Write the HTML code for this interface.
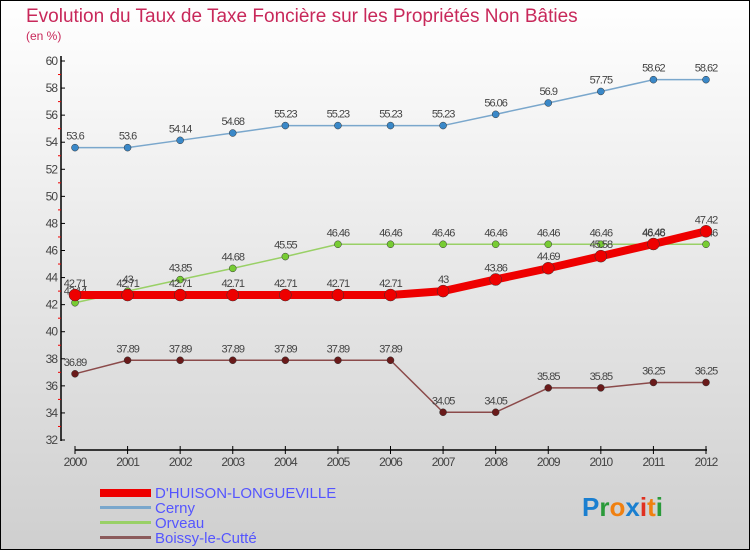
<!DOCTYPE html>
<html><head><meta charset="utf-8"><style>
body{margin:0}
#wrap{width:750px;height:550px;position:relative;overflow:hidden}
svg text{font-family:"Liberation Sans",sans-serif}
</style></head><body>
<div id="wrap">
<svg id="chart" width="750" height="550" xmlns="http://www.w3.org/2000/svg">
<defs><linearGradient id="bg" x1="0" y1="0" x2="0" y2="1"><stop offset="0" stop-color="#ffffff"/><stop offset="1" stop-color="#cfcfcf"/></linearGradient></defs>
<rect x="0.5" y="0.5" width="749" height="549" fill="url(#bg)" stroke="#000"/>
<text x="26" y="22" font-size="19" fill="#c8285a">Evolution du Taux de Taxe Foncière sur les Propriétés Non Bâties</text>
<text x="26" y="40" font-size="12" fill="#c8285a">(en %)</text>
<g id="axes"></g><g id="series"></g>
<g>
<rect x="100" y="489" width="51" height="8" fill="#e00"/>
<text x="155" y="498" font-size="15" fill="#55f">D'HUISON-LONGUEVILLE</text>
<rect x="100" y="506" width="51" height="3" fill="#7aa7cc"/>
<text x="155" y="513" font-size="15" fill="#55f">Cerny</text>
<rect x="100" y="521" width="51" height="3" fill="#99d066"/>
<text x="155" y="528" font-size="15" fill="#55f">Orveau</text>
<rect x="100" y="536" width="51" height="3" fill="#8b5a5a"/>
<text x="155" y="543" font-size="15" fill="#55f">Boissy-le-Cutté</text>
</g>
<text x="582" y="516" font-size="26" font-weight="bold"><tspan fill="#1a7fd0">P</tspan><tspan fill="#2a9a3a">r</tspan><tspan fill="#f08010">o</tspan><tspan fill="#1a7fd0">x</tspan><tspan fill="#e03020">i</tspan><tspan fill="#f08010">t</tspan><tspan fill="#2a9a3a">i</tspan></text>
</svg></div>
<script>
const years=[2000,2001,2002,2003,2004,2005,2006,2007,2008,2009,2010,2011,2012];
const yTicks=[32,34,36,38,40,42,44,46,48,50,52,54,56,58,60];
const dhuison=[42.71,42.71,42.71,42.71,42.71,42.71,42.71,43,43.86,44.69,45.58,46.48,47.42];
const cerny=[53.6,53.6,54.14,54.68,55.23,55.23,55.23,55.23,56.06,56.9,57.75,58.62,58.62];
const orveau=[42.14,43,43.85,44.68,45.55,46.46,46.46,46.46,46.46,46.46,46.46,46.46,46.46];
const boissy=[36.89,37.89,37.89,37.89,37.89,37.89,37.89,34.05,34.05,35.85,35.85,36.25,36.25];
const NS="http://www.w3.org/2000/svg";
const X=i=>75+i*(706-75)/(years.length-1);
const Y=v=>440-(v-32)*(440-61)/28;
function mk(t,a,p){const e=document.createElementNS(NS,t);for(const k in a)e.setAttribute(k,a[k]);p.appendChild(e);return e;}
const ax=document.getElementById('axes');
const yl=mk('line',{x1:61,y1:56,x2:61,y2:441,stroke:'#000','stroke-width':1.5},ax);


const xl=mk('line',{x1:75,y1:450,x2:707,y2:450,stroke:'#000','stroke-width':1.5},ax);


yTicks.forEach(v=>{
 mk('line',{x1:61,y1:Y(v),x2:65,y2:Y(v),stroke:'#000'},ax);
 if(v<60)mk('line',{x1:58,y1:Y(v+1),x2:61,y2:Y(v+1),stroke:'#e00'},ax);
 const t=mk('text',{x:57,y:Y(v)+4,'font-size':12,'text-anchor':'end',fill:'#444','letter-spacing':'-1'},ax);
 t.textContent=v;
 
 
});
years.forEach((y,i)=>{
 mk('line',{x1:X(i),y1:446,x2:X(i),y2:454,stroke:'#000'},ax);
 const t=mk('text',{x:X(i),y:466,'font-size':12,'text-anchor':'middle',fill:'#444','letter-spacing':'-1'},ax);
 t.textContent=y;
 
 
});
const sg=document.getElementById('series');
function series(vals,name,color,w,r,dot){
 const g=mk('g',{},sg);
 
 
 const pl=mk('polyline',{points:vals.map((v,i)=>X(i)+','+Y(v)).join(' '),fill:'none',stroke:color,'stroke-width':w,'stroke-linejoin':'round'},g);
 
 
 vals.forEach((v,i)=>{
  const c=mk('circle',{cx:X(i),cy:Y(v),r:r,fill:dot,stroke:'#333','stroke-width':0.5},g);
  
  
  const t=mk('text',{x:X(i),y:Y(v)-8,'font-size':11,'text-anchor':'middle',fill:'#444','letter-spacing':'-1'},g);
  t.textContent=v;
  
  
 });
}
series(cerny,'cerny','#7aa7cc',1.5,3.5,'#3a88c8');
series(orveau,'orveau','#99d066',1.5,3.5,'#77cc33');
series(boissy,'boissy','#8b4a4a',1.5,3.5,'#6a1a1a');
series(dhuison,'dhuison','#ee0000',8,6,'#ee0000');
</script>
</body></html>
